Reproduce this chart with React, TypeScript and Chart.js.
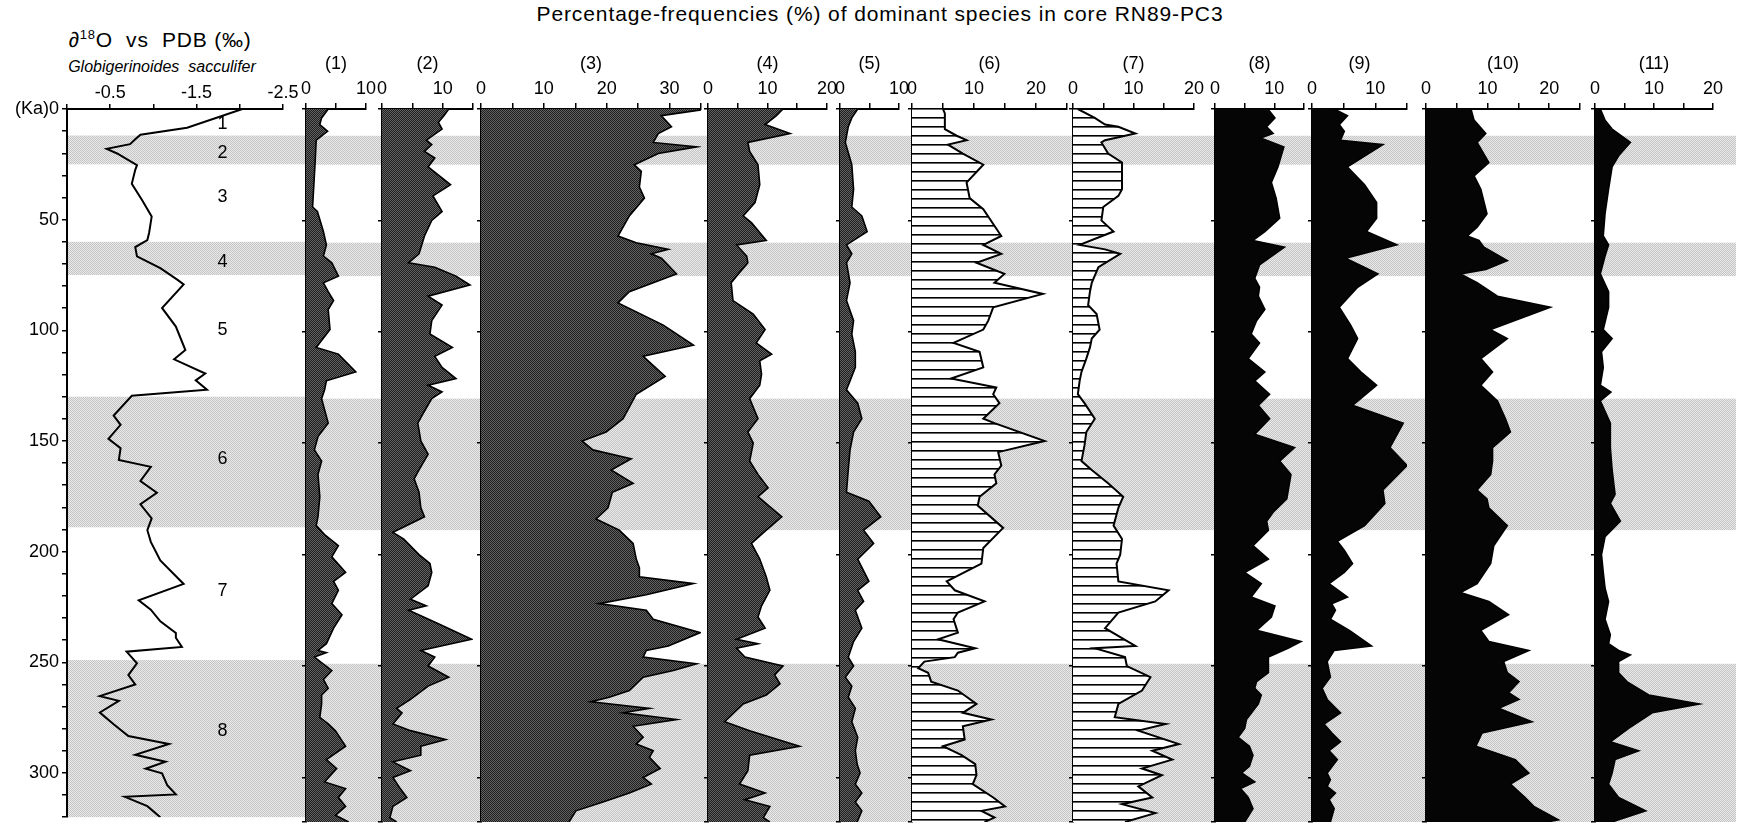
import React, { useEffect, useRef } from "react";
import { Chart, registerables } from "chart.js";

Chart.register(...registerables);

const FONT = "'Liberation Sans', Arial, Helvetica, sans-serif";
const PAGE_W = 1745;
const PAGE_H = 831;
const AREA_TOP = 109;
const AREA_BOTTOM = 822;

// ---------------- data ----------------
const depthMin = 0;
const depthMax = 320;
const ageTickLabels = [0, 50, 100, 150, 200, 250, 300];
const d18oTickLabels = ["-0.5", "-1.5", "-2.5"];

const bandStart = [12, 60, 130, 249];
const bandEnd = [25, 75, 189, 320];

const stageLabels = ["1", "2", "3", "4", "5", "6", "7", "8"];
const stageDepths = [7, 20, 40, 69, 100, 158, 218, 281];
const stageValue = -1.8;

const d18oDepth = [0, 8.5, 11.6, 13.7, 15.9, 18, 20.1, 25.4, 27.5, 33.8, 41.2, 48.6, 56, 59.2, 62.4, 66.6, 71.9, 77.2, 79.3, 89.9, 98.3, 108.9, 113.1, 119.5, 122.6, 126.8, 129.6, 138.5, 142.7, 149, 153.3, 158.6, 161.7, 168.1, 173.4, 178.6, 185, 190.3, 195.6, 204, 214.6, 222, 226.2, 231.5, 236.8, 238.9, 243.1, 245.2, 250.5, 255.8, 260, 265.3, 267.4, 272.7, 278, 283.3, 286.9, 291.8, 294.9, 298.1, 300.2, 305.5, 309.7, 310.8, 315, 320];
const d18oValue = [-2.03, -1.39, -0.85, -0.79, -0.73, -0.46, -0.58, -0.81, -0.79, -0.75, -0.87, -0.98, -0.95, -0.93, -0.79, -0.81, -1.08, -1.28, -1.35, -1.1, -1.26, -1.37, -1.24, -1.6, -1.49, -1.62, -0.75, -0.54, -0.62, -0.48, -0.62, -0.6, -0.97, -0.85, -1.04, -0.85, -0.98, -0.93, -0.97, -1.08, -1.35, -0.83, -0.97, -1.08, -1.26, -1.26, -1.33, -0.69, -0.81, -0.71, -0.79, -0.38, -0.6, -0.38, -0.54, -0.71, -1.18, -0.79, -1.14, -0.91, -1.1, -1.16, -1.26, -0.67, -0.93, -1.08];

const sp1Depth = [0, 4, 7, 10, 14, 25, 44, 46, 55, 61, 66, 69, 75, 78, 82, 86, 90, 99, 107, 110, 118, 122, 126, 130, 141, 147, 153, 158, 164, 174, 183, 187, 191, 196, 201, 208, 212, 216, 222, 227, 233, 240, 243, 244, 246, 252, 256, 260, 263, 267, 273, 276, 279, 286, 292, 296, 302, 305, 309, 313, 317, 320];
const sp1Value = [3.7, 2.6, 2.3, 3.6, 1.7, 1.5, 1.1, 1.9, 2.9, 3.4, 2.9, 4.3, 5.4, 2.9, 3.7, 4.6, 3.7, 4.0, 1.7, 5.4, 8.3, 3.4, 3.1, 2.6, 3.7, 2.0, 1.4, 2.6, 2.0, 2.3, 2.0, 1.7, 3.1, 5.4, 4.3, 6.6, 4.6, 5.4, 4.3, 6.0, 4.6, 3.4, 2.0, 3.4, 1.4, 4.3, 2.9, 3.7, 2.6, 2.6, 2.3, 3.7, 4.9, 6.6, 3.4, 5.1, 3.1, 6.6, 5.4, 6.6, 4.9, 7.1];

const sp2Depth = [0, 3, 6, 9, 14, 16, 19, 22, 26, 34, 39, 46, 50, 57, 65, 69, 71, 75, 79, 84, 88, 95, 101, 107, 111, 116, 121, 124, 127, 130, 137, 141, 149, 155, 162, 166, 172, 179, 183, 190, 193, 200, 204, 208, 214, 220, 223, 225, 231, 238, 243, 246, 250, 255, 259, 265, 269, 271, 276, 279, 283, 286, 290, 293, 297, 300, 305, 309, 313, 318, 320];
const sp2Value = [11.0, 10.2, 9.3, 9.9, 7.3, 8.2, 7.0, 8.7, 7.6, 11.3, 8.4, 9.9, 8.2, 7.0, 6.1, 4.4, 8.7, 12.2, 14.5, 7.6, 9.9, 8.2, 7.9, 11.6, 8.7, 9.9, 12.2, 7.6, 9.9, 8.2, 6.7, 5.9, 6.4, 7.6, 6.1, 5.3, 6.1, 6.4, 7.0, 1.8, 3.6, 6.1, 7.9, 8.2, 7.6, 4.7, 7.3, 4.4, 9.3, 14.8, 6.4, 8.7, 7.6, 11.0, 7.6, 4.7, 2.4, 3.3, 1.8, 4.7, 10.5, 6.4, 6.4, 1.8, 4.7, 1.8, 3.0, 4.1, 1.8, 1.3, 2.4];

const sp3Depth = [0, 3, 8, 11, 15, 17, 20, 25, 28, 35, 40, 48, 57, 60, 63, 65, 67, 74, 78, 82, 87, 97, 106, 111, 120, 128, 139, 145, 149, 153, 157, 162, 168, 172, 179, 184, 189, 195, 202, 206, 210, 213, 218, 222, 225, 229, 235, 241, 243, 246, 249, 252, 255, 261, 264, 266, 269, 271, 274, 277, 282, 285, 288, 291, 296, 300, 303, 307, 311, 315, 320];
const sp3Value = [35.9, 28.7, 30.3, 28.2, 27.4, 34.3, 28.2, 24.4, 25.5, 25.2, 26.0, 23.6, 21.8, 24.7, 29.8, 27.1, 28.7, 31.1, 27.4, 23.6, 21.8, 29.0, 33.8, 25.8, 29.3, 24.7, 22.6, 19.9, 16.1, 17.8, 23.9, 20.7, 24.2, 20.9, 20.2, 18.3, 22.0, 24.2, 24.7, 25.2, 25.2, 33.8, 26.3, 18.8, 26.3, 27.4, 34.9, 29.8, 26.3, 25.8, 34.3, 30.6, 25.8, 23.6, 20.4, 17.5, 26.8, 22.6, 31.1, 24.2, 25.8, 24.7, 27.4, 26.8, 28.5, 25.8, 27.1, 23.6, 19.4, 15.1, 14.0];

const sp4Depth = [0, 3, 7, 11, 15, 19, 25, 34, 42, 48, 51, 59, 61, 66, 69, 74, 78, 86, 92, 99, 105, 110, 113, 119, 124, 130, 139, 145, 150, 158, 164, 170, 174, 183, 189, 195, 202, 210, 216, 223, 228, 233, 238, 240, 242, 246, 250, 254, 258, 263, 267, 275, 279, 286, 290, 297, 303, 307, 310, 313, 318, 320];
const sp4Value = [12.6, 11.5, 9.6, 13.8, 6.7, 7.0, 8.4, 8.7, 7.9, 5.9, 7.3, 9.8, 4.8, 6.5, 6.7, 5.1, 3.9, 4.2, 7.6, 9.6, 8.1, 10.7, 8.7, 9.0, 8.7, 7.0, 8.4, 6.7, 7.6, 7.0, 8.4, 10.1, 8.4, 12.4, 9.8, 7.3, 8.7, 9.8, 10.4, 9.0, 8.4, 9.6, 4.8, 8.4, 4.8, 6.2, 12.6, 11.2, 12.1, 9.8, 5.9, 2.8, 7.0, 15.4, 7.0, 6.7, 5.3, 9.6, 6.2, 10.4, 9.3, 10.4];

const sp5Depth = [0, 4, 8, 15, 25, 36, 44, 48, 55, 61, 65, 69, 78, 86, 95, 101, 109, 116, 122, 126, 132, 139, 145, 153, 162, 172, 176, 183, 189, 195, 202, 212, 216, 221, 225, 233, 239, 246, 250, 255, 259, 264, 269, 275, 282, 288, 294, 298, 303, 307, 311, 315, 320];
const sp5Value = [3.0, 2.0, 1.4, 0.9, 2.0, 2.3, 2.0, 3.7, 4.6, 1.1, 2.0, 1.1, 1.7, 1.1, 2.3, 2.0, 2.6, 2.6, 1.7, 1.1, 3.0, 3.7, 2.3, 1.7, 1.4, 1.1, 4.9, 6.9, 4.0, 5.7, 3.0, 4.9, 3.0, 4.0, 2.6, 3.7, 2.3, 1.4, 2.3, 0.9, 2.0, 1.4, 2.6, 2.0, 3.0, 2.6, 2.9, 3.4, 2.6, 3.7, 2.6, 3.7, 2.9];

const sp6Depth = [0, 2, 9, 12, 14, 16, 20, 25, 33, 40, 45, 57, 61, 65, 69, 74, 78, 83, 89, 95, 99, 105, 109, 116, 121, 125, 128, 132, 139, 141, 149, 154, 160, 164, 168, 174, 178, 188, 197, 204, 212, 216, 221, 226, 229, 235, 238, 242, 244, 246, 248, 251, 253, 257, 261, 267, 271, 274, 277, 283, 286, 290, 294, 299, 303, 309, 313, 315, 318, 320];
const sp6Value = [5.0, 5.3, 5.3, 7.2, 8.8, 5.8, 8.2, 11.5, 8.8, 9.3, 11.5, 14.4, 11.5, 14.4, 10.4, 14.9, 13.3, 21.1, 13.1, 12.3, 11.5, 6.7, 10.9, 11.5, 6.3, 13.6, 13.1, 14.1, 11.5, 13.3, 21.4, 13.9, 14.4, 13.3, 13.6, 10.9, 10.6, 14.7, 11.5, 11.2, 5.6, 6.9, 11.7, 7.4, 6.7, 7.4, 4.2, 10.2, 7.4, 6.9, 2.0, 1.0, 2.6, 3.1, 7.4, 10.4, 8.2, 12.8, 8.2, 8.5, 5.0, 8.0, 10.2, 10.4, 9.8, 13.1, 15.0, 11.2, 13.3, 11.7];

const sp7Depth = [0, 4, 7, 8, 11, 14, 15, 20, 24, 36, 39, 44, 50, 55, 61, 63, 65, 71, 78, 82, 88, 92, 99, 103, 107, 112, 118, 122, 128, 132, 139, 145, 151, 158, 162, 168, 174, 179, 187, 193, 200, 204, 212, 216, 221, 226, 233, 241, 242, 246, 250, 255, 261, 267, 273, 276, 279, 285, 288, 292, 296, 299, 304, 309, 312, 316, 320];
const sp7Value = [0.8, 3.6, 5.3, 7.5, 10.3, 5.3, 4.7, 5.8, 8.1, 8.1, 7.5, 5.0, 4.7, 6.7, 1.1, 5.3, 7.8, 4.2, 3.1, 2.8, 2.5, 3.9, 4.4, 3.1, 2.8, 2.2, 1.4, 1.1, 0.8, 1.9, 3.6, 2.2, 1.9, 1.4, 3.1, 5.8, 8.3, 7.5, 6.7, 8.1, 7.8, 7.2, 7.5, 15.8, 13.6, 7.5, 5.3, 10.3, 3.6, 8.6, 8.9, 12.8, 11.4, 7.5, 6.9, 15.3, 10.8, 17.5, 13.1, 16.4, 11.4, 14.7, 10.8, 13.1, 8.1, 13.6, 8.6];

const sp8Depth = [0, 4, 8, 11, 13, 17, 26, 33, 40, 49, 55, 59, 62, 70, 76, 80, 84, 90, 95, 101, 105, 112, 118, 122, 128, 133, 139, 146, 152, 158, 164, 175, 181, 185, 189, 196, 202, 208, 213, 219, 223, 228, 234, 239, 242, 246, 253, 257, 260, 263, 267, 274, 278, 282, 286, 290, 295, 298, 302, 305, 309, 314, 320];
const sp8Value = [8.9, 10.1, 8.7, 9.8, 7.7, 11.6, 10.6, 9.5, 10.3, 10.9, 8.4, 6.4, 11.7, 7.5, 6.7, 7.5, 7.3, 8.4, 7.0, 6.1, 7.5, 5.6, 8.4, 6.7, 9.2, 7.3, 9.2, 6.7, 13.4, 10.9, 12.8, 12.1, 9.8, 8.7, 9.0, 6.4, 9.0, 5.0, 7.8, 6.1, 10.1, 9.5, 7.0, 14.5, 12.3, 9.0, 9.0, 7.0, 6.7, 7.8, 7.3, 5.3, 5.0, 3.9, 5.8, 6.4, 5.8, 4.5, 6.7, 4.3, 5.6, 6.4, 5.0];

const sp9Depth = [0, 3, 7, 10, 14, 16, 26, 34, 42, 49, 55, 61, 67, 74, 80, 89, 97, 103, 112, 118, 124, 133, 141, 152, 160, 171, 177, 187, 194, 198, 204, 208, 213, 219, 222, 225, 229, 234, 241, 243, 248, 255, 260, 265, 271, 276, 280, 284, 288, 292, 298, 301, 304, 307, 310, 314, 320];
const sp9Value = [3.5, 5.6, 4.3, 5.1, 4.5, 11.2, 5.6, 8.3, 10.2, 10.2, 8.6, 13.4, 5.3, 10.4, 7.2, 4.3, 6.1, 7.2, 5.6, 7.7, 10.2, 6.4, 14.4, 12.3, 15.0, 11.2, 11.5, 8.3, 4.0, 5.1, 6.4, 5.1, 2.7, 5.6, 3.1, 3.7, 2.9, 5.9, 9.4, 3.5, 2.4, 2.9, 1.6, 2.4, 4.5, 1.9, 3.1, 4.5, 2.7, 4.0, 2.4, 2.9, 2.4, 3.7, 2.7, 3.5, 2.9];

const sp10Depth = [0, 5, 11, 15, 24, 30, 36, 47, 53, 57, 59, 62, 68, 72, 74, 78, 84, 89, 99, 103, 112, 118, 124, 131, 139, 145, 152, 158, 164, 171, 175, 179, 187, 196, 204, 213, 217, 221, 227, 234, 239, 243, 248, 253, 257, 262, 265, 269, 275, 280, 286, 292, 298, 303, 309, 313, 319, 320];
const sp10Value = [7.3, 7.8, 9.7, 8.3, 10.2, 7.8, 8.9, 9.9, 8.3, 6.7, 8.6, 9.4, 13.2, 9.7, 5.6, 8.3, 11.6, 20.2, 10.5, 13.2, 8.9, 10.8, 8.9, 11.6, 12.9, 13.7, 10.8, 10.8, 10.5, 8.3, 9.9, 10.2, 13.2, 11.0, 10.5, 8.3, 5.6, 10.2, 13.4, 8.9, 10.2, 16.7, 12.6, 13.2, 15.1, 13.4, 15.1, 11.8, 17.2, 9.1, 8.1, 14.5, 16.7, 13.7, 16.1, 17.5, 21.5, 19.6];

const sp11Depth = [0, 5, 9, 15, 21, 26, 36, 47, 57, 61, 66, 74, 82, 89, 99, 103, 109, 116, 124, 127, 131, 141, 152, 162, 173, 177, 185, 192, 200, 208, 215, 221, 229, 236, 240, 243, 245, 248, 253, 257, 263, 267, 271, 278, 284, 288, 292, 298, 303, 309, 315, 319, 320];
const sp11Value = [0.9, 1.7, 2.9, 6.0, 4.0, 2.9, 2.3, 1.7, 1.4, 2.3, 1.7, 0.9, 2.3, 2.3, 1.4, 2.9, 1.1, 1.4, 0.9, 2.7, 0.9, 2.6, 2.6, 2.9, 3.4, 2.6, 4.3, 1.7, 1.1, 1.4, 1.7, 2.3, 1.7, 2.6, 2.3, 4.0, 6.0, 4.0, 4.0, 5.4, 9.1, 17.7, 9.7, 5.7, 2.6, 7.4, 3.4, 2.9, 2.3, 4.0, 8.6, 4.0, 2.9];

const speciesTitles = ["(1)", "(2)", "(3)", "(4)", "(5)", "(6)", "(7)", "(8)", "(9)", "(10)", "(11)"];
const speciesDepths = [sp1Depth, sp2Depth, sp3Depth, sp4Depth, sp5Depth, sp6Depth, sp7Depth, sp8Depth, sp9Depth, sp10Depth, sp11Depth];
const speciesValues = [sp1Value, sp2Value, sp3Value, sp4Value, sp5Value, sp6Value, sp7Value, sp8Value, sp9Value, sp10Value, sp11Value];
const speciesMax = [10, 15, 35, 20, 10, 25, 20, 15, 15, 25, 20];

// ---------------- layout / style ----------------
const D18O_LEFT = 67;
const D18O_RIGHT = 283;
const panelX0 = [306, 382, 481, 708, 840, 912, 1073, 1215, 1312, 1426, 1595];
const panelX1 = [366, 473, 701, 827, 900, 1067, 1194, 1304, 1407, 1580, 1713];
const panelFill = ["stipple", "stipple", "stipple", "stipple", "stipple", "hatch", "hatch", "solid", "solid", "solid", "solid"];
const LEFT_OVERLAP = 20;
const BAND_END_X = 1736;

function makePattern(ctx: CanvasRenderingContext2D, w: number, h: number, draw: (c: CanvasRenderingContext2D) => void) {
  const pc = document.createElement("canvas");
  pc.width = w;
  pc.height = h;
  const pctx = pc.getContext("2d")!;
  draw(pctx);
  return ctx.createPattern(pc, "repeat")!;
}

function bandPattern(ctx: CanvasRenderingContext2D) {
  return makePattern(ctx, 2, 2, (c) => {
    c.fillStyle = "#eaeaea";
    c.fillRect(0, 0, 2, 2);
    c.fillStyle = "#c4c4c4";
    c.fillRect(0, 0, 1, 1);
    c.fillRect(1, 1, 1, 1);
  });
}

function fillFor(ctx: CanvasRenderingContext2D, kind: string) {
  if (kind === "stipple") {
    return makePattern(ctx, 2, 2, (c) => {
      c.fillStyle = "#1f1f1f";
      c.fillRect(0, 0, 2, 2);
      c.fillStyle = "#626262";
      c.fillRect(0, 0, 1, 1);
      c.fillRect(1, 1, 1, 1);
    });
  }
  if (kind === "hatch") {
    return makePattern(ctx, 4, 9, (c) => {
      c.fillStyle = "#ffffff";
      c.fillRect(0, 0, 4, 9);
      c.fillStyle = "#000000";
      c.fillRect(0, 0, 4, 1.6);
    });
  }
  return "#050505";
}

function bandsPlugin(bandRight: number) {
  return {
    id: "bands",
    beforeDraw(chart: any) {
      const { ctx, chartArea, scales } = chart;
      const y = scales.y;
      ctx.save();
      ctx.fillStyle = bandPattern(ctx);
      for (let i = 0; i < bandStart.length; i++) {
        const t = y.getPixelForValue(bandStart[i]);
        const b = y.getPixelForValue(bandEnd[i]);
        ctx.fillRect(chartArea.left, t, bandRight - chartArea.left, b - t);
      }
      ctx.restore();
    },
  };
}

const stagePlugin = {
  id: "stages",
  afterDatasetsDraw(chart: any) {
    const { ctx, scales } = chart;
    ctx.save();
    ctx.fillStyle = "#000";
    ctx.font = `18px ${FONT}`;
    ctx.textAlign = "center";
    ctx.textBaseline = "middle";
    for (let i = 0; i < stageLabels.length; i++) {
      ctx.fillText(stageLabels[i], scales.x.getPixelForValue(stageValue), scales.y.getPixelForValue(stageDepths[i]));
    }
    ctx.restore();
  },
};

const tickFont = { size: 18, family: FONT };

export default function App() {
  const deltaRef = useRef<HTMLCanvasElement | null>(null);
  const panelRefs = useRef<(HTMLCanvasElement | null)[]>([]);

  useEffect(() => {
    Chart.defaults.font.family = FONT;
    Chart.defaults.color = "#000";
    const charts: Chart[] = [];

    // δ18O panel
    const dc = deltaRef.current!;
    const dctx = dc.getContext("2d")!;
    charts.push(
      new Chart(dctx, {
        type: "line",
        data: {
          datasets: [
            {
              data: d18oDepth.map((d, i) => ({ x: d18oValue[i], y: d })),
              borderColor: "#000",
              borderWidth: 2,
              pointRadius: 0,
              tension: 0,
              fill: false,
            },
          ],
        },
        options: {
          indexAxis: "y",
          responsive: false,
          animation: false,
          devicePixelRatio: 1,
          events: [],
          layout: { padding: { left: 0, right: panelX0[0] - D18O_RIGHT, top: 0, bottom: PAGE_H - AREA_BOTTOM } },
          plugins: { legend: { display: false }, tooltip: { enabled: false } },
          scales: {
            x: {
              type: "linear",
              position: "top",
              min: -2.5,
              max: 0,
              reverse: true,
              ticks: {
                stepSize: 0.5,
                autoSkip: false,
                maxRotation: 0,
                padding: 0,
                color: "#000",
                font: tickFont,
                callback: (v: any) => {
                  const s = Number(v).toFixed(1);
                  return d18oTickLabels.includes(s) ? s : "";
                },
              },
              grid: { display: true, drawOnChartArea: false, drawTicks: true, tickLength: 5, color: "#000", lineWidth: 1.5 },
              border: { display: true, color: "#000", width: 2 },
              afterFit: (s: any) => {
                s.height = AREA_TOP;
              },
            } as any,
            y: {
              type: "linear",
              reverse: true,
              min: depthMin,
              max: depthMax,
              ticks: {
                stepSize: 10,
                autoSkip: false,
                padding: 3,
                color: "#000",
                font: tickFont,
                callback: (v: any) => {
                  const n = Number(v);
                  if (!ageTickLabels.includes(n)) return "";
                  return n === 0 ? "(Ka)0" : String(n);
                },
              },
              grid: { display: true, drawOnChartArea: false, drawTicks: true, tickLength: 5, color: "#000", lineWidth: 1.5 },
              border: { display: true, color: "#000", width: 2 },
              afterFit: (s: any) => {
                s.width = D18O_LEFT;
              },
            } as any,
          },
        },
        plugins: [bandsPlugin(dc.width), stagePlugin],
      } as any)
    );

    // species panels
    for (let i = 0; i < speciesTitles.length; i++) {
      const cv = panelRefs.current[i]!;
      const ctx = cv.getContext("2d")!;
      const last = i === speciesTitles.length - 1;
      const bandRight = last ? BAND_END_X - (panelX0[i] - LEFT_OVERLAP) : cv.width;
      const nextX = last ? PAGE_W : panelX0[i + 1];
      const max = speciesMax[i];
      charts.push(
        new Chart(ctx, {
          type: "line",
          data: {
            datasets: [
              {
                data: speciesDepths[i].map((d, k) => ({ x: speciesValues[i][k], y: d })),
                borderColor: "#000",
                borderWidth: panelFill[i] === "hatch" ? 2 : 1.6,
                backgroundColor: fillFor(ctx, panelFill[i]),
                fill: "origin",
                pointRadius: 0,
                tension: 0,
              },
            ],
          },
          options: {
            indexAxis: "y",
            responsive: false,
            animation: false,
            devicePixelRatio: 1,
            events: [],
            layout: { padding: { left: LEFT_OVERLAP, right: nextX - panelX1[i], top: 0, bottom: PAGE_H - AREA_BOTTOM } },
            plugins: { legend: { display: false }, tooltip: { enabled: false } },
            scales: {
              x: {
                type: "linear",
                position: "top",
                min: 0,
                max,
                ticks: {
                  stepSize: 5,
                  autoSkip: false,
                  maxRotation: 0,
                  padding: 3,
                  color: "#000",
                  font: tickFont,
                  callback: (v: any) => (Number(v) % 10 === 0 ? String(v) : ""),
                },
                grid: { display: true, drawOnChartArea: false, drawTicks: true, tickLength: 6, color: "#000", lineWidth: 1.5 },
                border: { display: true, color: "#000", width: 2 },
                title: {
                  display: true,
                  text: speciesTitles[i],
                  color: "#000",
                  font: { size: 18, family: FONT },
                  padding: { top: 53, bottom: 0 },
                },
                afterFit: (s: any) => {
                  s.height = AREA_TOP;
                },
              } as any,
              y: {
                type: "linear",
                reverse: true,
                min: depthMin,
                max: depthMax,
                ticks: { display: false, stepSize: 50 },
                grid: { display: true, drawOnChartArea: false, drawTicks: true, tickLength: 4, color: "#000", lineWidth: 1.5 },
                border: { display: true, color: "#000", width: 2 },
                afterFit: (s: any) => {
                  s.width = 0;
                },
              } as any,
            },
          },
          plugins: [bandsPlugin(bandRight)],
        } as any)
      );
    }

    return () => charts.forEach((c) => c.destroy());
  }, []);

  const deltaWidth = panelX0[0];

  return (
    <div style={{ position: "absolute", left: 0, top: 0, width: PAGE_W, height: PAGE_H, background: "#fff", overflow: "hidden", fontFamily: FONT, color: "#000" }}>
      <div style={{ position: "absolute", left: 480, top: 2, width: 800, textAlign: "center", fontSize: 21, lineHeight: "24px", letterSpacing: "0.9px" }}>
        Percentage-frequencies (%) of dominant species in core RN89-PC3
      </div>
      <div style={{ position: "absolute", left: 40, top: 28, width: 240, textAlign: "center", fontSize: 21, lineHeight: "24px", whiteSpace: "pre", letterSpacing: "0.8px" }}>
        {"∂"}
        <span style={{ fontSize: 13, position: "relative", top: -8 }}>18</span>
        {"O  vs  PDB (‰)"}
      </div>
      <div style={{ position: "absolute", left: 40, top: 57, width: 244, textAlign: "center", fontSize: 16, lineHeight: "20px", fontStyle: "italic", whiteSpace: "pre" }}>
        {"Globigerinoides  sacculifer"}
      </div>
      <canvas ref={deltaRef} width={deltaWidth} height={PAGE_H} style={{ position: "absolute", left: 0, top: 0, width: deltaWidth, height: PAGE_H }} />
      {speciesTitles.map((t, i) => {
        const left = panelX0[i] - LEFT_OVERLAP;
        const right = i === speciesTitles.length - 1 ? PAGE_W : panelX0[i + 1];
        const w = right - left;
        return (
          <canvas
            key={t}
            ref={(el) => {
              panelRefs.current[i] = el;
            }}
            width={w}
            height={PAGE_H}
            style={{ position: "absolute", left, top: 0, width: w, height: PAGE_H }}
          />
        );
      })}
    </div>
  );
}
